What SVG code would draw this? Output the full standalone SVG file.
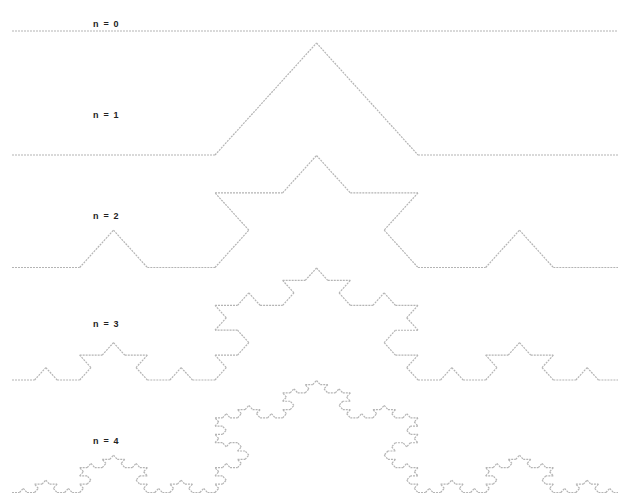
<svg xmlns="http://www.w3.org/2000/svg" xmlns:xlink="http://www.w3.org/1999/xlink" width="618" height="500" viewBox="0 0 618 500">
<style>
.k{fill:none;stroke:#b4b4b4;stroke-width:1.2;vector-effect:non-scaling-stroke;stroke-dasharray:2 1}
.lbl{font-family:"Liberation Sans",Arial,sans-serif;font-size:9px;font-weight:bold;fill:#222;letter-spacing:1.2px}
</style>
<defs>
<path id="k0" class="k" d="M0 0H609"/>
<g id="k1">
<use href="#k0" transform="scale(0.3333333)"/>
<use href="#k0" transform="translate(203,0) rotate(-60) scale(0.3333333)"/>
<use href="#k0" transform="translate(304.5,-175.7962) rotate(60) scale(0.3333333)"/>
<use href="#k0" transform="translate(406,0) scale(0.3333333)"/>
</g>
<g id="k2">
<use href="#k1" transform="scale(0.3333333)"/>
<use href="#k1" transform="translate(203,0) rotate(-60) scale(0.3333333)"/>
<use href="#k1" transform="translate(304.5,-175.7962) rotate(60) scale(0.3333333)"/>
<use href="#k1" transform="translate(406,0) scale(0.3333333)"/>
</g>
<g id="k3">
<use href="#k2" transform="scale(0.3333333)"/>
<use href="#k2" transform="translate(203,0) rotate(-60) scale(0.3333333)"/>
<use href="#k2" transform="translate(304.5,-175.7962) rotate(60) scale(0.3333333)"/>
<use href="#k2" transform="translate(406,0) scale(0.3333333)"/>
</g>
<g id="k4">
<use href="#k3" transform="scale(0.3333333)"/>
<use href="#k3" transform="translate(203,0) rotate(-60) scale(0.3333333)"/>
<use href="#k3" transform="translate(304.5,-175.7962) rotate(60) scale(0.3333333)"/>
<use href="#k3" transform="translate(406,0) scale(0.3333333)"/>
</g>
</defs>
<rect width="618" height="500" fill="#fff"/>
<g id="level0">
<text class="lbl" x="93" y="27">n = 0</text>
<use href="#k0" transform="translate(12,31)"/>
</g>
<g id="level1">
<text class="lbl" x="93" y="118">n = 1</text>
<use href="#k1" transform="translate(12,155) scale(1,0.6371)"/>
</g>
<g id="level2">
<text class="lbl" x="93" y="219">n = 2</text>
<use href="#k2" transform="translate(12,267.5) scale(1,0.6371)"/>
</g>
<g id="level3">
<text class="lbl" x="93" y="327">n = 3</text>
<use href="#k3" transform="translate(12,380) scale(1,0.6371)"/>
</g>
<g id="level4">
<text class="lbl" x="93" y="444">n = 4</text>
<use href="#k4" transform="translate(12,492.5) scale(1,0.6371)"/>
</g>
</svg>
